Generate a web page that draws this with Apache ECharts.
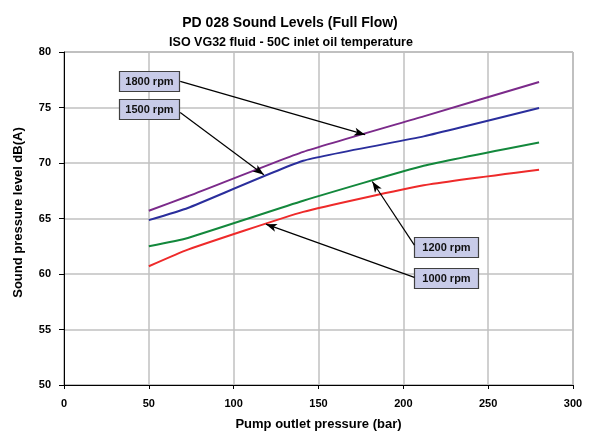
<!DOCTYPE html>
<html><head><meta charset="utf-8">
<script src="https://cdn.jsdelivr.net/npm/echarts@6/dist/echarts.min.js"></script>
<style>html,body{margin:0;padding:0;background:#fff}#c{width:591px;height:432px}</style>
</head><body><div id="c"></div>
<script>
const pressure = [50, 73, 141, 212, 280];
const rpm1800 = [65.7, 67.0, 71.0, 74.2, 77.3];
const rpm1500 = [64.85, 65.95, 70.2, 72.4, 74.95];
const rpm1200 = [62.5, 63.25, 66.6, 69.75, 71.85];
const rpm1000 = [60.7, 62.2, 65.6, 68.0, 69.4];
const seriesNames = ['1800 rpm', '1500 rpm', '1200 rpm', '1000 rpm'];
const seriesColors = ['#7b2a8a', '#2a2e9c', '#13883c', '#ee2a2a'];
// annotation: [label box center x, y], arrow tail [x,y], arrow tip [x,y]
const annotations = [
  {name: '1800 rpm', box: [50, 77.4], tail: [68.5, 77.35], tip: [177.5, 72.55]},
  {name: '1500 rpm', box: [50, 74.82], tail: [68.5, 74.55], tip: [117.8, 68.94]},
  {name: '1200 rpm', box: [225.4, 62.44], tail: [206.5, 62.6], tip: [181.7, 68.33]},
  {name: '1000 rpm', box: [225.4, 59.62], tail: [206.5, 59.7], tip: [119, 64.49]}
];
const allData = [rpm1800, rpm1500, rpm1200, rpm1000];

const chart = echarts.init(document.getElementById('c'));
const FONT = 'Liberation Sans, Arial, sans-serif';
const series = allData.map((d, i) => ({
  name: seriesNames[i], type: 'line', data: pressure.map((p, j) => [p, d[j]]),
  showSymbol: false, smooth: 0.15, lineStyle: {color: seriesColors[i], width: 2},
  itemStyle: {color: seriesColors[i]}, z: 3, silent: true
}));
series.push({
  type: 'line', data: [], silent: true, z: 5,
  markLine: {
    silent: true, symbol: ['none', 'arrow'], symbolSize: [6, 11],
    lineStyle: {color: '#000', width: 1.2, type: 'solid'}, label: {show: false},
    data: annotations.map(a => [{coord: a.tail}, {coord: a.tip}])
  }
});
chart.setOption({
  animation: false,
  title: [
    {text: 'PD 028 Sound Levels (Full Flow)', left: 285, top: 11, textAlign: 'center',
     textStyle: {fontFamily: FONT, fontSize: 14, fontWeight: 'bold', color: '#000'}},
    {text: 'ISO VG32 fluid - 50C inlet oil temperature', left: 286, top: 31, textAlign: 'center',
     textStyle: {fontFamily: FONT, fontSize: 12.5, fontWeight: 'bold', color: '#000'}}
  ],
  grid: {left: 64, right: 18, top: 52, bottom: 47, show: true, borderColor: '#808080', borderWidth: 1,
         containLabel: false, outerBoundsMode: 'none'},
  xAxis: {
    type: 'value', min: 0, max: 300, interval: 50,
    name: 'Pump outlet pressure (bar)', nameLocation: 'middle', nameGap: 33,
    nameTextStyle: {fontFamily: FONT, fontSize: 13, fontWeight: 'bold', color: '#000'},
    axisLine: {onZero: false, lineStyle: {color: '#000', width: 1}},
    axisTick: {show: true, length: 4, lineStyle: {color: '#000'}},
    axisLabel: {fontFamily: FONT, fontSize: 11, fontWeight: 'bold', color: '#000', margin: 13},
    splitLine: {show: true, lineStyle: {color: '#c0c0c0', width: 1.5}}
  },
  yAxis: {
    type: 'value', min: 50, max: 80, interval: 5,
    name: 'Sound pressure level dB(A)', nameLocation: 'middle', nameGap: 39, nameRotate: 90,
    nameTextStyle: {fontFamily: FONT, fontSize: 13, fontWeight: 'bold', color: '#000', padding: [0, 0, 0, 12]},
    axisLine: {show: true, onZero: false, lineStyle: {color: '#000', width: 1}},
    axisTick: {show: true, length: 5, lineStyle: {color: '#000'}},
    axisLabel: {fontFamily: FONT, fontSize: 11, fontWeight: 'bold', color: '#000', margin: 13},
    splitLine: {show: true, lineStyle: {color: '#c0c0c0', width: 1.5}}
  },
  series: series
});

const graphics = annotations.map(a => {
  const p = chart.convertToPixel({gridIndex: 0}, a.box);
  const w = a.box[0] > 150 ? 64 : 60, h = 20;
  return {
    type: 'group', x: Math.round(p[0] - w / 2), y: Math.round(p[1] - h / 2), z: 10,
    children: [
      {type: 'rect', shape: {x: 0.5, y: 0.5, width: w, height: h},
       style: {fill: '#c8cbe8', stroke: '#404040', lineWidth: 1.2}},
      {type: 'text', x: w / 2 + 0.5, y: h / 2 + 1,
       style: {text: a.name, fontFamily: FONT, fontSize: 11, fontWeight: 'bold', fill: '#111',
               textAlign: 'center', textVerticalAlign: 'middle'}}
    ]
  };
});
chart.setOption({graphic: graphics});
</script></body></html>
